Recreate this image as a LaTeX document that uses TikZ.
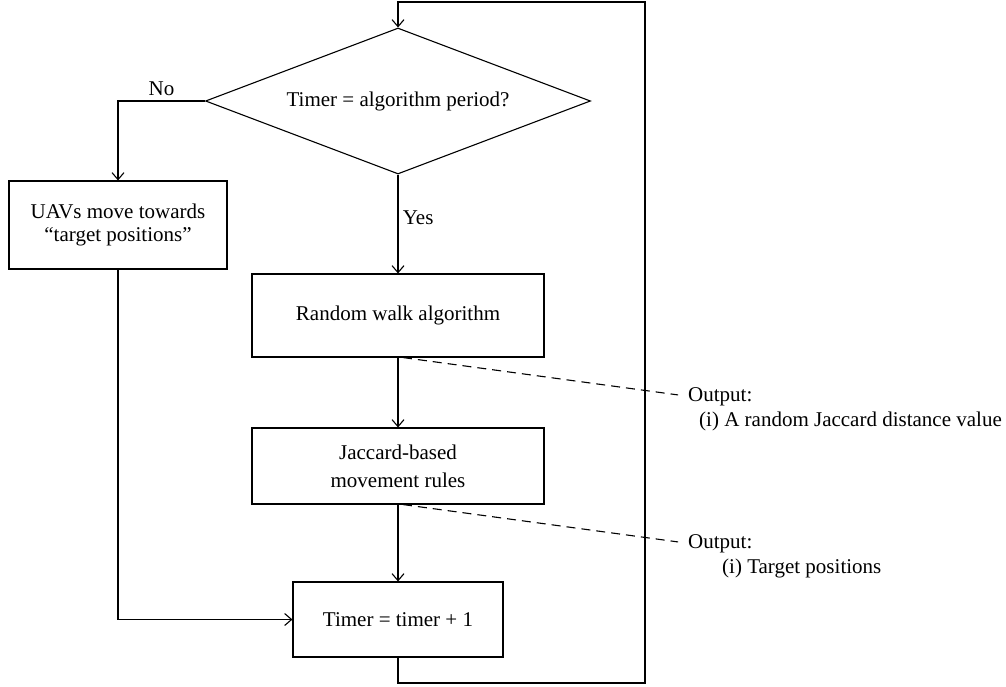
\documentclass[tikz,border=0pt]{standalone}
\usepackage{fontspec}
\setmainfont{Liberation Serif}
\usetikzlibrary{shapes.geometric,arrows.meta}
\begin{document}
\begin{tikzpicture}[x=1pt,y=-1pt,
  every node/.style={font=\fontsize{21}{25}\selectfont},
  line/.style={line width=1.1pt, draw=black},
  arr/.style={line, -{Straight Barb[length=7pt,width=12pt]}},
  proc/.style={draw, line width=1.1pt, rectangle, align=center, inner sep=0pt},
  decision/.style={draw, line width=1.1pt, diamond, aspect=2.64, inner sep=0pt,
    minimum width=385pt, minimum height=146pt},
  note/.style={anchor=base west, inner sep=0pt},
  outlink/.style={line, dash pattern=on 9pt off 6pt, shorten >=10pt}]
\useasboundingbox (0,0) rectangle (1006,686);

% process steps
\node[decision] (dec) at (398,101) {Timer = algorithm period?};
\node[proc, minimum width=218pt, minimum height=88pt] (uav) at (118,225)
  {UAVs move towards\\[-2pt]“target positions”};
\node[proc, minimum width=292pt, minimum height=83pt] (rw) at (398,315.5)
  {Random walk algorithm};
\node[proc, minimum width=292pt, minimum height=76pt] (jac) at (398,466)
  {Jaccard-based\\[3pt]movement rules};
\node[proc, minimum width=210pt, minimum height=75pt] (tim) at (398,619.5)
  {Timer = timer + 1};

% outputs
\node[note] (o1) at (688,401) {Output:};
\node[note] (o1i) at (699,426) {(i) A random Jaccard distance value};
\node[note] (o2) at (688,548) {Output:};
\node[note] (o2i) at (722,573) {(i) Target positions};

% loop back to the decision
\coordinate (lbr) at (645,683);
\coordinate (ltr) at (645,2);
\draw[arr] (tim.south) |- (lbr) -- (ltr) -| (dec.north);

% branches
\draw[arr] (dec.west) -| node[pos=0.25, above=1pt] {No} (uav.north);
\draw[arr] (dec.south) -- node[pos=0.44, right=1pt] {Yes} (rw.north);
\draw[arr] (rw) -- (jac);
\draw[arr] (jac) -- (tim);
\draw[arr] (uav.south) |- (tim.west);

% output annotations
\draw[outlink] ([xshift=5pt]rw.south) -- (o1.west);
\draw[outlink] ([xshift=5pt]jac.south) -- (o2.west);
\end{tikzpicture}
\end{document}
